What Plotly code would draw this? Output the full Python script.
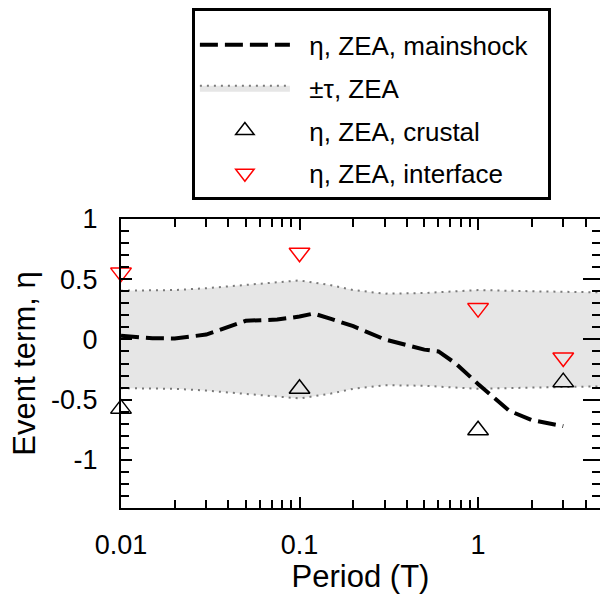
import plotly.graph_objects as go

# ---- data ----
period_main = [0.01, 0.015, 0.02, 0.03, 0.05, 0.075, 0.1, 0.12, 0.15, 0.2, 0.3, 0.4, 0.5, 0.6, 0.75, 1.0, 1.5, 2.0, 3.0]
eta_main = [0.03, 0.01, 0.008, 0.04, 0.155, 0.165, 0.19, 0.215, 0.17, 0.11, 0.0, -0.05, -0.085, -0.1, -0.2, -0.37, -0.594, -0.67, -0.72]

period_tau = [0.01, 0.02, 0.03, 0.05, 0.075, 0.1, 0.15, 0.2, 0.3, 0.5, 0.75, 1.0, 2.0, 3.0, 5.0]
tau = [0.405, 0.41, 0.425, 0.45, 0.47, 0.49, 0.45, 0.41, 0.38, 0.385, 0.40, 0.41, 0.40, 0.395, 0.39]

period_pts = [0.01, 0.1, 1.0, 3.0]
eta_crustal = [-0.575, -0.41, -0.755, -0.355]
eta_interface = [0.555, 0.72, 0.26, -0.15]

x_ticks = [0.01, 0.1, 1]
x_ticktext = ["0.01", "0.1", "1"]
x_minor = [0.02, 0.03, 0.04, 0.05, 0.06, 0.07, 0.08, 0.09,
           0.2, 0.3, 0.4, 0.5, 0.6, 0.7, 0.8, 0.9, 2, 3, 4]
y_ticks = [-1, -0.5, 0, 0.5, 1]
y_ticktext = ["-1", "-0.5", "0", "0.5", "1"]

FONT = "Liberation Sans, Arial, sans-serif"
PAD = "\u00a0\u00a0"

lower = [-t for t in tau]

fig = go.Figure()

fig.add_trace(go.Scatter(
    x=period_tau, y=lower, mode="lines",
    line=dict(color="#7a7a7a", width=2, dash="2px,5px"),
    showlegend=False, hoverinfo="skip"))
fig.add_trace(go.Scatter(
    x=period_tau, y=tau, mode="lines", fill="tonexty",
    fillcolor="#e6e6e6",
    line=dict(color="#7a7a7a", width=2, dash="2px,5px"),
    name=PAD + "±τ, ZEA" + PAD, legendrank=2, legendgroup="b"))
fig.add_trace(go.Scatter(
    x=period_main, y=eta_main, mode="lines",
    line=dict(color="black", width=4, dash="18px,7px"),
    name=PAD + "η, ZEA, mainshock" + PAD, legendrank=1, legendgroup="a"))
fig.add_trace(go.Scatter(
    x=period_pts, y=eta_crustal, mode="markers", cliponaxis=False,
    marker=dict(symbol="triangle-up-open", size=18, color="black",
                line=dict(width=1.5, color="black")),
    name=PAD + "η, ZEA, crustal" + PAD, legendrank=3, legendgroup="c"))
fig.add_trace(go.Scatter(
    x=period_pts, y=eta_interface, mode="markers", cliponaxis=False,
    marker=dict(symbol="triangle-down-open", size=18, color="red",
                line=dict(width=1.5, color="red")),
    name=PAD + "η, ZEA, interface" + PAD, legendrank=4, legendgroup="d"))

# invisible trace to carry the right-hand tick axis
fig.add_trace(go.Scatter(x=[0.01], y=[0], yaxis="y2", mode="markers",
                         marker=dict(opacity=0), showlegend=False, hoverinfo="skip"))

fig.update_layout(
    width=600, height=594,
    margin=dict(l=121, r=0, t=219, b=86),
    paper_bgcolor="white", plot_bgcolor="white",
    font=dict(family=FONT, color="black", size=27),
    showlegend=True,
    legend=dict(
        x=0.148, y=1.73, xanchor="left", yanchor="top",
        bgcolor="white", bordercolor="black", borderwidth=3,
        font=dict(size=26, family=FONT),
        title=dict(text=" ", font=dict(size=8)),
        itemwidth=90, tracegroupgap=6, traceorder="grouped",
    ),
    xaxis=dict(
        type="log", range=[-2, 0.683],
        tickvals=x_ticks, ticktext=x_ticktext,
        ticks="inside", ticklen=11, tickwidth=2, tickcolor="black",
        showline=True, linewidth=2, linecolor="black", mirror="ticks",
        showgrid=False, zeroline=False,
        ticklabelstandoff=12,
        minor=dict(tickvals=x_minor, ticks="inside", ticklen=8, tickwidth=2,
                   tickcolor="black", showgrid=False),
        title=dict(text="Period (T)", font=dict(size=31), standoff=8),
    ),
    yaxis=dict(
        range=[-1.4, 1.0],
        tickvals=y_ticks, ticktext=y_ticktext,
        ticks="inside", ticklen=11, tickwidth=2, tickcolor="black",
        showline=True, linewidth=2, linecolor="black", mirror=False,
        showgrid=False, zeroline=False,
        ticklabelstandoff=16,
        minor=dict(tick0=0, dtick=0.1, ticks="inside", ticklen=8, tickwidth=2,
                   tickcolor="black", showgrid=False),
        title=dict(text="Event term, η", font=dict(size=31), standoff=6),
    ),
    yaxis2=dict(
        overlaying="y", side="right", range=[-1.4, 1.0],
        tickvals=y_ticks, showticklabels=False,
        ticks="inside", ticklen=17, tickwidth=2, tickcolor="black",
        showline=False, showgrid=False, zeroline=False,
        minor=dict(tick0=0, dtick=0.1, ticks="inside", ticklen=8, tickwidth=2,
                   tickcolor="black", showgrid=False),
    ),
)

fig.write_html("out.html")
